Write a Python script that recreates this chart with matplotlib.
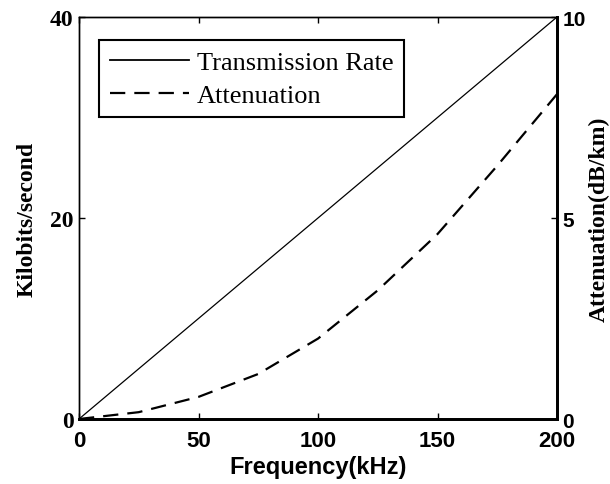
import numpy as np
import matplotlib
matplotlib.use("Agg")
import matplotlib.pyplot as plt

# values
freq = [0, 25, 50, 75, 100, 125, 150, 175, 200]          # kHz
rate = [0, 5, 10, 15, 20, 25, 30, 35, 40]                # kilobits/s
atten = [0, 0.17, 0.55, 1.12, 2.0, 3.2, 4.6, 6.3, 8.08]  # dB/km

left_ticks = [0, 20, 40]
right_ticks = [0, 5, 10]
x_ticks = [0, 50, 100, 150, 200]

plt.rcParams['lines.scale_dashes'] = False
serif = 'Liberation Serif'
sans = 'Liberation Sans'

fig = plt.figure(figsize=(6.1, 4.85), dpi=100)
ax1 = fig.add_axes([79/610, 1-420/485, (557-79)/610, (420-18)/485])
ax2 = ax1.twinx()

l1, = ax1.plot(freq, rate, color='black', lw=0.9, label='Transmission Rate')
l2, = ax2.plot(freq, atten, color='black', lw=1.6, dashes=(11, 6.5),
               label='Attenuation')

ax1.set_xlim(0, 200)
ax1.set_ylim(0, 40)
ax2.set_ylim(0, 10)

ax1.set_xticks(x_ticks, labels=[str(v) for v in x_ticks],
               family=sans, weight='bold', fontsize=16)
ax1.set_yticks(left_ticks, labels=[str(v) for v in left_ticks],
               family=serif, weight='bold', fontsize=17)
ax2.set_yticks(right_ticks, labels=[str(v) for v in right_ticks],
               family=sans, weight='bold', fontsize=15)

ax1.tick_params(axis='x', direction='in', top=True, length=4, width=1, pad=8)
ax1.tick_params(axis='y', direction='in', length=4, width=1, pad=4)
ax2.tick_params(axis='y', direction='in', length=4, width=1, pad=4)

ax1.set_xlabel('Frequency(kHz)', family=sans, weight='bold', fontsize=17, labelpad=3)
ax1.set_ylabel('Kilobits/second', family=serif, weight='bold', fontsize=17, labelpad=9)
ax2.set_ylabel('Attenuation(dB/km)', family=serif, weight='bold', fontsize=17, labelpad=2)

for ax in (ax1, ax2):
    ax.spines['left'].set_linewidth(1.0)
    ax.spines['top'].set_linewidth(1.0)
    ax.spines['bottom'].set_linewidth(2.0)
    ax.spines['right'].set_linewidth(2.0)

leg_l1 = plt.Line2D([], [], color='black', lw=1.3)
leg_l2 = plt.Line2D([], [], color='black', lw=1.6, dashes=(11, 6.5))
leg = ax2.legend([leg_l1, leg_l2], [l1.get_label(), l2.get_label()],
                 loc='upper left', bbox_to_anchor=(99/610, 1-41/485),
                 bbox_transform=fig.transFigure, borderaxespad=0,
                 prop={'family': serif, 'size': 19}, fancybox=False,
                 edgecolor='black', framealpha=1, handlelength=3.0,
                 handletextpad=0.32, labelspacing=0.35, borderpad=0.4)
leg.get_frame().set_linewidth(1.5)

fig.savefig('out.png', dpi=100)
